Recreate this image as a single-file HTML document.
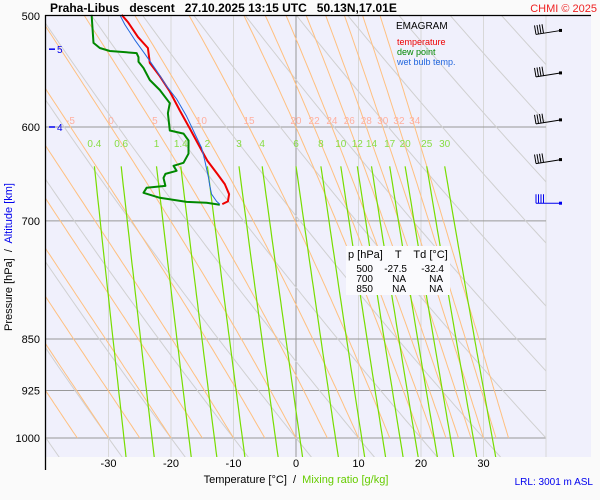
<!DOCTYPE html>
<html><head><meta charset="utf-8"><style>
html,body{margin:0;padding:0;background:#fafafa;}
svg{display:block;font-family:"Liberation Sans",sans-serif;}
</style></head><body>
<svg id="chart" width="600" height="500" viewBox="0 0 600 500" xmlns="http://www.w3.org/2000/svg">
<rect x="0" y="0" width="600" height="500" fill="#fafafa"/>
<rect x="45" y="15" width="546" height="442" fill="#f0f0fc"/>
<g id="grid"></g>
<g id="lines"></g>
<g id="profiles"></g>
<g id="axes"></g>
<text x="50" y="12" font-size="12" font-weight="bold" fill="#000" xml:space="preserve">Praha-Libus   descent   27.10.2025 13:15 UTC   50.13N,17.01E</text>
<text x="597" y="12" font-size="11" fill="#ee2222" text-anchor="end">CHMI © 2025</text>
<g>
<text x="396" y="29" font-size="10" fill="#000">EMAGRAM</text>
<text x="397" y="45" font-size="9" fill="#ee0000">temperature</text>
<text x="397" y="55" font-size="9" fill="#008800">dew point</text>
<text x="397" y="65" font-size="9" fill="#2266dd">wet bulb temp.</text>
</g>
<g>
<rect x="346" y="246" width="104" height="49" fill="#fafafd"/>
<text x="348" y="258" font-size="11" fill="#000" xml:space="preserve">p [hPa]    T    Td [°C]</text>
<g font-size="10" fill="#000" text-anchor="end">
<text x="373" y="272">500</text><text x="407" y="272">-27.5</text><text x="444" y="272">-32.4</text>
<text x="373" y="282">700</text><text x="406" y="282">NA</text><text x="443" y="282">NA</text>
<text x="373" y="292">850</text><text x="406" y="292">NA</text><text x="443" y="292">NA</text>
</g></g>
<text transform="translate(12,257) rotate(-90)" font-size="11" text-anchor="middle" xml:space="preserve"><tspan fill="#000">Pressure [hPa]  /  </tspan><tspan fill="#0000ee">Altitude [km]</tspan></text>
<text x="296" y="483" font-size="11" text-anchor="middle" xml:space="preserve"><tspan fill="#000">Temperature [°C]  /  </tspan><tspan fill="#66cc00">Mixing ratio [g/kg]</tspan></text>
<text x="593" y="485" font-size="10" fill="#0000ee" text-anchor="end">LRL: 3001 m ASL</text>
<g id="winds"></g>
</svg>
<script>
const pressureTicks = [500,600,700,850,925,1000];
const tempTicks = [-30,-20,-10,0,10,20,30];
const altKm = [5,4];
const altP = [528,600];
const mixRatios = [0.4,0.6,1,1.4,2,3,4,6,8,10,12,14,17,20,25,30];
const thetaW = [-5,0,5,10,15,20,22,24,26,28,30,32,34];
const thetaWExtra = [-10,-15,-20,-25,-30,-35,-40];
const tempP = [499,505,517.5,527,540,552,566,584,601.5,616.5,634,648,659,670,678,681];
const tempT = [-27.9,-26.9,-25.3,-23.7,-23.4,-21.8,-20.2,-18.6,-17.0,-15.7,-14.2,-12.6,-11.4,-10.7,-10.9,-11.8];
const dewP = [499,522.6,527,529.6,531.4,535,539,544.6,555.4,564.6,577,586.6,603.5,606.5,613.5,626.9,636.3,639.5,644.8,648,652.3,660.9,663,668.5,674,678.5,679.6,681.8];
const dewT = [-32.7,-32.4,-31.4,-29.8,-25.5,-25.2,-25.2,-24.4,-23.4,-21.8,-20.2,-20.5,-20.2,-18.0,-17.2,-17.2,-18.0,-19.6,-19.1,-20.9,-21.2,-20.9,-23.9,-24.4,-21.8,-17.5,-14.3,-12.2];
const wbP = [499,507,520,532,547,561,573,589.5,606.5,621,634,652,661,670,678,681];
const wbT = [-28.2,-27.4,-25.8,-24.2,-22.3,-20.7,-19.1,-17.5,-16.2,-15.1,-14.6,-14.0,-13.8,-13.5,-12.7,-12.2];
const windP = [512,549,593,633,680];

const NS='http://www.w3.org/2000/svg';
function xT(t){return 296+6.25*t;}
function yP(p){return 16+422*Math.log(p/500)/Math.log(2);}
function mk(tag,attrs,parent){const e=document.createElementNS(NS,tag);for(const k in attrs)e.setAttribute(k,attrs[k]);parent.appendChild(e);return e;}
const grid=document.getElementById('grid'),lines=document.getElementById('lines'),prof=document.getElementById('profiles'),axes=document.getElementById('axes'),winds=document.getElementById('winds');
const X0=46,X1=546,Y0=16,Y1=457;
const defs=mk('defs',{},document.getElementById('chart'));
const cp=mk('clipPath',{id:'pc'},defs);mk('rect',{x:X0,y:Y0,width:X1-X0,height:Y1-Y0},cp);
lines.setAttribute('clip-path','url(#pc)');
for(let t=-40;t<=40;t+=10){const x=xT(t);if(x<=X0+1||x>X1+1)continue;
 const l=mk('line',{x1:x,y1:Y0,x2:x,y2:Y1,stroke:t===0?'#999':'#d8d8d8','stroke-width':1},grid);
 }
pressureTicks.forEach(p=>{const y=yP(p);
 if(p!==500){const l=mk('line',{x1:X0,y1:y,x2:X1,y2:y,stroke:'#999','stroke-width':1},grid);
 }
 const t=mk('text',{x:40,y:y+4,'font-size':11,'text-anchor':'end',fill:'#000'},axes);t.textContent=p;
 });
tempTicks.forEach(v=>{const t=mk('text',{x:xT(v),y:467,'font-size':11,'text-anchor':'middle',fill:'#000'},axes);t.textContent=v;
 });
altKm.forEach((k,i)=>{const y=yP(altP[i]);
 mk('line',{x1:49,y1:y,x2:55,y2:y,stroke:'#0000ee','stroke-width':1.5},axes);
 const t=mk('text',{x:57,y:y+4,'font-size':10,fill:'#0000ee'},axes);t.textContent=k;
 });
const ax=mk('line',{x1:45.5,y1:15,x2:45.5,y2:470,stroke:'#000','stroke-width':1.3},axes);

const tp=mk('line',{x1:45,y1:15.5,x2:591,y2:15.5,stroke:'#000','stroke-width':1.3},axes);

function es(t){return 6.112*Math.exp(17.67*t/(t+243.5));}
function tdFromE(e){const a=Math.log(e/6.112);return 243.5*a/(17.67-a);}
for(let th=193.15;th<=433.15;th+=10){let d='';
 for(let p=480;p<=1070;p+=10){const t=th*Math.pow(p/1000,0.2857)-273.15;d+=(d?'L':'M')+xT(t).toFixed(1)+','+yP(p).toFixed(1);}
 const pa=mk('path',{d:d,fill:'none',stroke:'#d0d0d0','stroke-width':1},lines);
 }
function moistDT(p,T){const Tk=T+273.15,rs=0.622*es(T)/(p-es(T)),L=2.5e6,Rd=287,cp=1004;
 return (Rd*Tk+L*rs)/(p*(cp+L*L*rs*0.622/(Rd*Tk*Tk)));}
function moist(tw){const pts=[];let T=tw,p=1000;pts.push([p,T]);
 while(p>480){const dp=-5;T+=moistDT(p,T)*dp;p+=dp;pts.unshift([p,T]);}
 return pts;}
function tAt(pts,pp){for(const q of pts){if(Math.abs(q[0]-pp)<0.01)return q[1];}return 0;}
function drawMoist(tw,label){const pts=moist(tw);let d='';pts.forEach(q=>{d+=(d?'L':'M')+xT(q[1]).toFixed(1)+','+yP(q[0]).toFixed(1);});
 const pa=mk('path',{d:d,fill:'none',stroke:'#ffc080','stroke-width':1},lines);
 
 if(label){const t=mk('text',{x:xT(tAt(pts,600)),y:124,'font-size':10,'text-anchor':'middle',fill:'#ffb0a0'},axes);t.textContent=tw;
 }}
thetaW.forEach(tw=>drawMoist(tw,true));
thetaWExtra.forEach(tw=>drawMoist(tw,false));
mixRatios.forEach(w=>{let d='';let xtop=0;
 for(let p=640;p<=1080;p+=10){const e=w*p/(622+w);const x=xT(tdFromE(e));if(p===640)xtop=x;d+=(d?'L':'M')+x.toFixed(1)+','+yP(p).toFixed(1);}
 const pa=mk('path',{d:d,fill:'none',stroke:'#77dd00','stroke-width':1.2},lines);
 
 const t=mk('text',{x:xtop,y:147,'font-size':10,'text-anchor':'middle',fill:'#88dd44'},axes);t.textContent=w;
 });
function profile(P,T,color,w,name){let d='';P.forEach((p,i)=>{d+=(d?'L':'M')+xT(T[i]).toFixed(1)+','+yP(p).toFixed(1);});
 const pa=mk('path',{d:d,fill:'none',stroke:color,'stroke-width':w,'stroke-linejoin':'round'},prof);
 }
profile(dewP,dewT,'#008800',2,'dew-point-line');
profile(tempP,tempT,'#ee0000',2,'temperature-line');
profile(wbP,wbT,'#2266dd',1,'wet-bulb-line');
windP.forEach((p,i)=>{const y=yP(p);const blue=i===windP.length-1;const c=blue?'#0000ee':'#000';
 const g=mk('g',{},winds);
 const dy=blue?0:4;
 mk('line',{x1:536,y1:y+dy,x2:561,y2:y,stroke:c,'stroke-width':1},g);
 mk('rect',{x:559,y:y-1.5,width:3,height:3,fill:c},g);
 for(let k=0;k<4;k++){const bx=536+k*2.5;const by=y+dy-k*(dy/25*2.5);
  mk('line',{x1:bx,y1:by,x2:bx-(blue?0:1.5),y2:by-9,stroke:c,'stroke-width':1},g);}
});
</script>
</body></html>
